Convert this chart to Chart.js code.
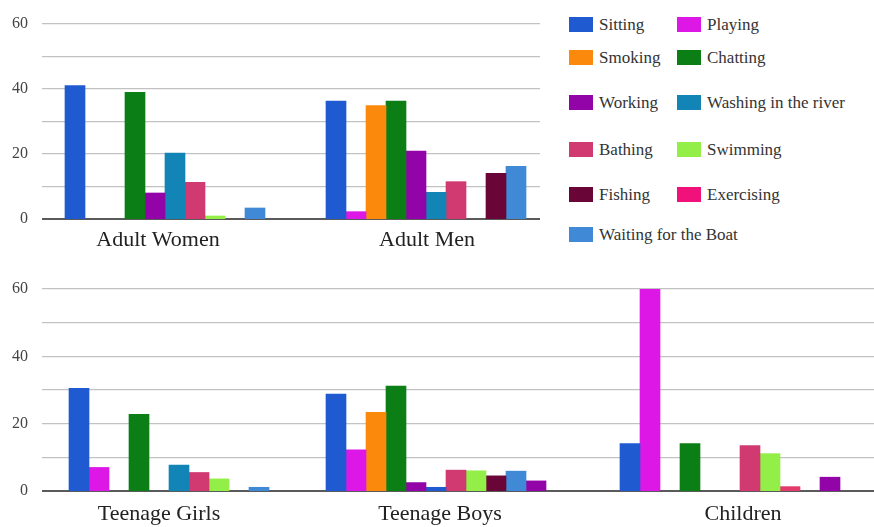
<!DOCTYPE html>
<html>
<head>
<meta charset="utf-8">
<script src="https://cdn.jsdelivr.net/npm/chart.js@4.4.1/dist/chart.umd.min.js"></script>
<style>
  html, body { margin: 0; padding: 0; background: #fff; }
  #stage { position: relative; width: 874px; height: 527px; overflow: hidden; font-family: "Liberation Serif", serif; }
  #stage canvas { position: absolute; }
  .key { position: absolute; display: flex; align-items: center; height: 15px; font-size: 17px; color: #333; white-space: nowrap; }
  .key .sw { display: inline-block; width: 24px; height: 15px; margin-right: 6px; flex: none; }
</style>
</head>
<body>
<div id="stage"></div>
<script>
// activities shown in the legend
const activities = ["Sitting", "Playing", "Smoking", "Chatting", "Working", "Washing in the river",
  "Bathing", "Swimming", "Fishing", "Exercising", "Waiting for the Boat"];
const activityColors = ["#1f5ad0", "#dd18e6", "#fb8a0c", "#0b7e16", "#9304a8", "#1284b6",
  "#d03a70", "#93ee48", "#690537", "#f0127a", "#3f89d6"];

// top panel: adults (null = no bar)
const adultGroups = ["Adult Women", "Adult Men"];
const adultSeries = ["Sitting", "Playing", "Smoking", "Chatting", "Working", "Washing in the river",
  "Bathing", "Swimming", "Fishing", "Waiting for the Boat"];
const adultWomen = [40, null, null, 38, 7.8, 19.8, 11, 0.9, null, 3.3];
const adultMen = [35.4, 2.2, 34, 35.4, 20.4, 8, 11.2, null, 13.7, 15.8];

// bottom panel: young people
const youngGroups = ["Teenage Girls", "Teenage Boys", "Children"];
const youngSeries = ["Sitting", "Playing", "Smoking", "Chatting", "Working", "Washing in the river",
  "Bathing", "Swimming", "Fishing", "Waiting for the Boat", "Exercising"];
const teenageGirls = [30.5, 7, null, 22.8, null, 7.7, 5.5, 3.6, null, 1.1, null];
const teenageBoys = [28.8, 12.2, 23.4, 31.2, 2.5, 1.1, 6.2, 6, 4.5, 5.9, 3];
const children = [14.1, 60, null, 14.1, null, null, 13.5, 11.1, 1.3, null, 4.1];

const yTicks = [0, 20, 40, 60];

const stage = document.getElementById("stage");
const serif = "'Liberation Serif', 'Times New Roman', serif";

function colorOf(name) {
  return activityColors[activities.indexOf(name)];
}

// a few bars in the bottom panel are drawn in other colours than the legend says
function youngColors(group) {
  return youngSeries.map((name) => {
    if (name === "Exercising") return colorOf("Working");
    if (group === "Teenage Boys" && name === "Washing in the river") return colorOf("Sitting");
    if (group === "Children" && name === "Fishing") return "#e23a6a";
    return colorOf(name);
  });
}

function addCanvas(left, top, width, height) {
  const c = document.createElement("canvas");
  c.width = width;
  c.height = height;
  c.style.left = left + "px";
  c.style.top = top + "px";
  c.style.width = width + "px";
  c.style.height = height + "px";
  stage.append(c);
  return c;
}

// y axis + horizontal grid for a whole panel
function gridChart(box, labels) {
  const c = addCanvas(box.left, box.top, box.width, box.height);
  new Chart(c, {
    type: "bar",
    data: { labels, datasets: [] },
    options: {
      responsive: false,
      animation: false,
      layout: { padding: { top: box.padTop, bottom: box.padBottom, left: 0, right: 0 } },
      plugins: { legend: { display: false }, tooltip: { enabled: false } },
      scales: {
        x: { display: false },
        y: {
          min: 0,
          max: 60,
          afterFit: (s) => { s.width = 42; },
          border: { display: false },
          grid: {
            drawTicks: false,
            color: (ctx) => (ctx.tick.value === 0 ? "#5a5a5a" : "#c2c2c2"),
            lineWidth: (ctx) => (ctx.tick.value === 0 ? 2 : 1.3),
          },
          ticks: {
            stepSize: 10,
            padding: 14,
            color: "#444",
            font: { family: serif, size: 16 },
            callback: (v) => (yTicks.includes(v) ? v : ""),
          },
        },
      },
    },
  });
}

// the bars of one group, laid over the panel grid
function groupChart(box, group, series, values, colors) {
  const c = addCanvas(box.left, box.top, box.width, box.height);
  new Chart(c, {
    type: "bar",
    data: {
      labels: [group],
      datasets: series.map((name, i) => ({
        label: name,
        data: [values[i]],
        backgroundColor: colors[i],
        borderWidth: 0,
      })),
    },
    options: {
      responsive: false,
      animation: false,
      layout: { padding: 0 },
      datasets: { bar: { barThickness: 20 } },
      plugins: { legend: { display: false }, tooltip: { enabled: false } },
      scales: {
        x: {
          afterFit: (s) => { s.height = box.axis; },
          grid: { display: false, drawTicks: false },
          border: { display: false },
          ticks: {
            padding: box.pad,
            labelOffset: box.shift,
            color: "#222",
            font: { family: serif, size: 22 },
          },
        },
        y: { display: false, min: 0, max: 60 },
      },
    },
  });
}

// top panel
gridChart({ left: 0, top: 0, width: 540, height: 250, padTop: 19, padBottom: 31 }, adultGroups);
groupChart({ left: 45, top: 19, width: 240, height: 231, axis: 31, pad: 8, shift: -7 },
  "Adult Women", adultSeries, adultWomen, adultSeries.map(colorOf));
groupChart({ left: 306, top: 19, width: 240, height: 231, axis: 31, pad: 8, shift: 1 },
  "Adult Men", adultSeries, adultMen, adultSeries.map(colorOf));

// bottom panel
gridChart({ left: 0, top: 260, width: 874, height: 267, padTop: 29, padBottom: 36 }, youngGroups);
groupChart({ left: 59, top: 289, width: 240, height: 238, axis: 36, pad: 10, shift: -20 },
  "Teenage Girls", youngSeries, teenageGirls, youngColors("Teenage Girls"));
groupChart({ left: 316, top: 289, width: 240, height: 238, axis: 36, pad: 10, shift: 4 },
  "Teenage Boys", youngSeries, teenageBoys, youngColors("Teenage Boys"));
groupChart({ left: 610, top: 289, width: 240, height: 238, axis: 36, pad: 10, shift: 13 },
  "Children", youngSeries, children, youngColors("Children"));

// legend, two columns
const legendCols = [569, 677];
const legendRowTops = [17, 50, 95, 142, 187, 227];
activities.forEach((name, i) => {
  const item = document.createElement("div");
  item.className = "key";
  const col = name === "Waiting for the Boat" ? 0 : i % 2;
  const row = Math.floor(i / 2);
  item.style.left = legendCols[col] + "px";
  item.style.top = legendRowTops[row] + "px";
  const sw = document.createElement("span");
  sw.className = "sw";
  sw.style.background = activityColors[i];
  item.append(sw, document.createTextNode(name));
  stage.append(item);
});
</script>
</body>
</html>
